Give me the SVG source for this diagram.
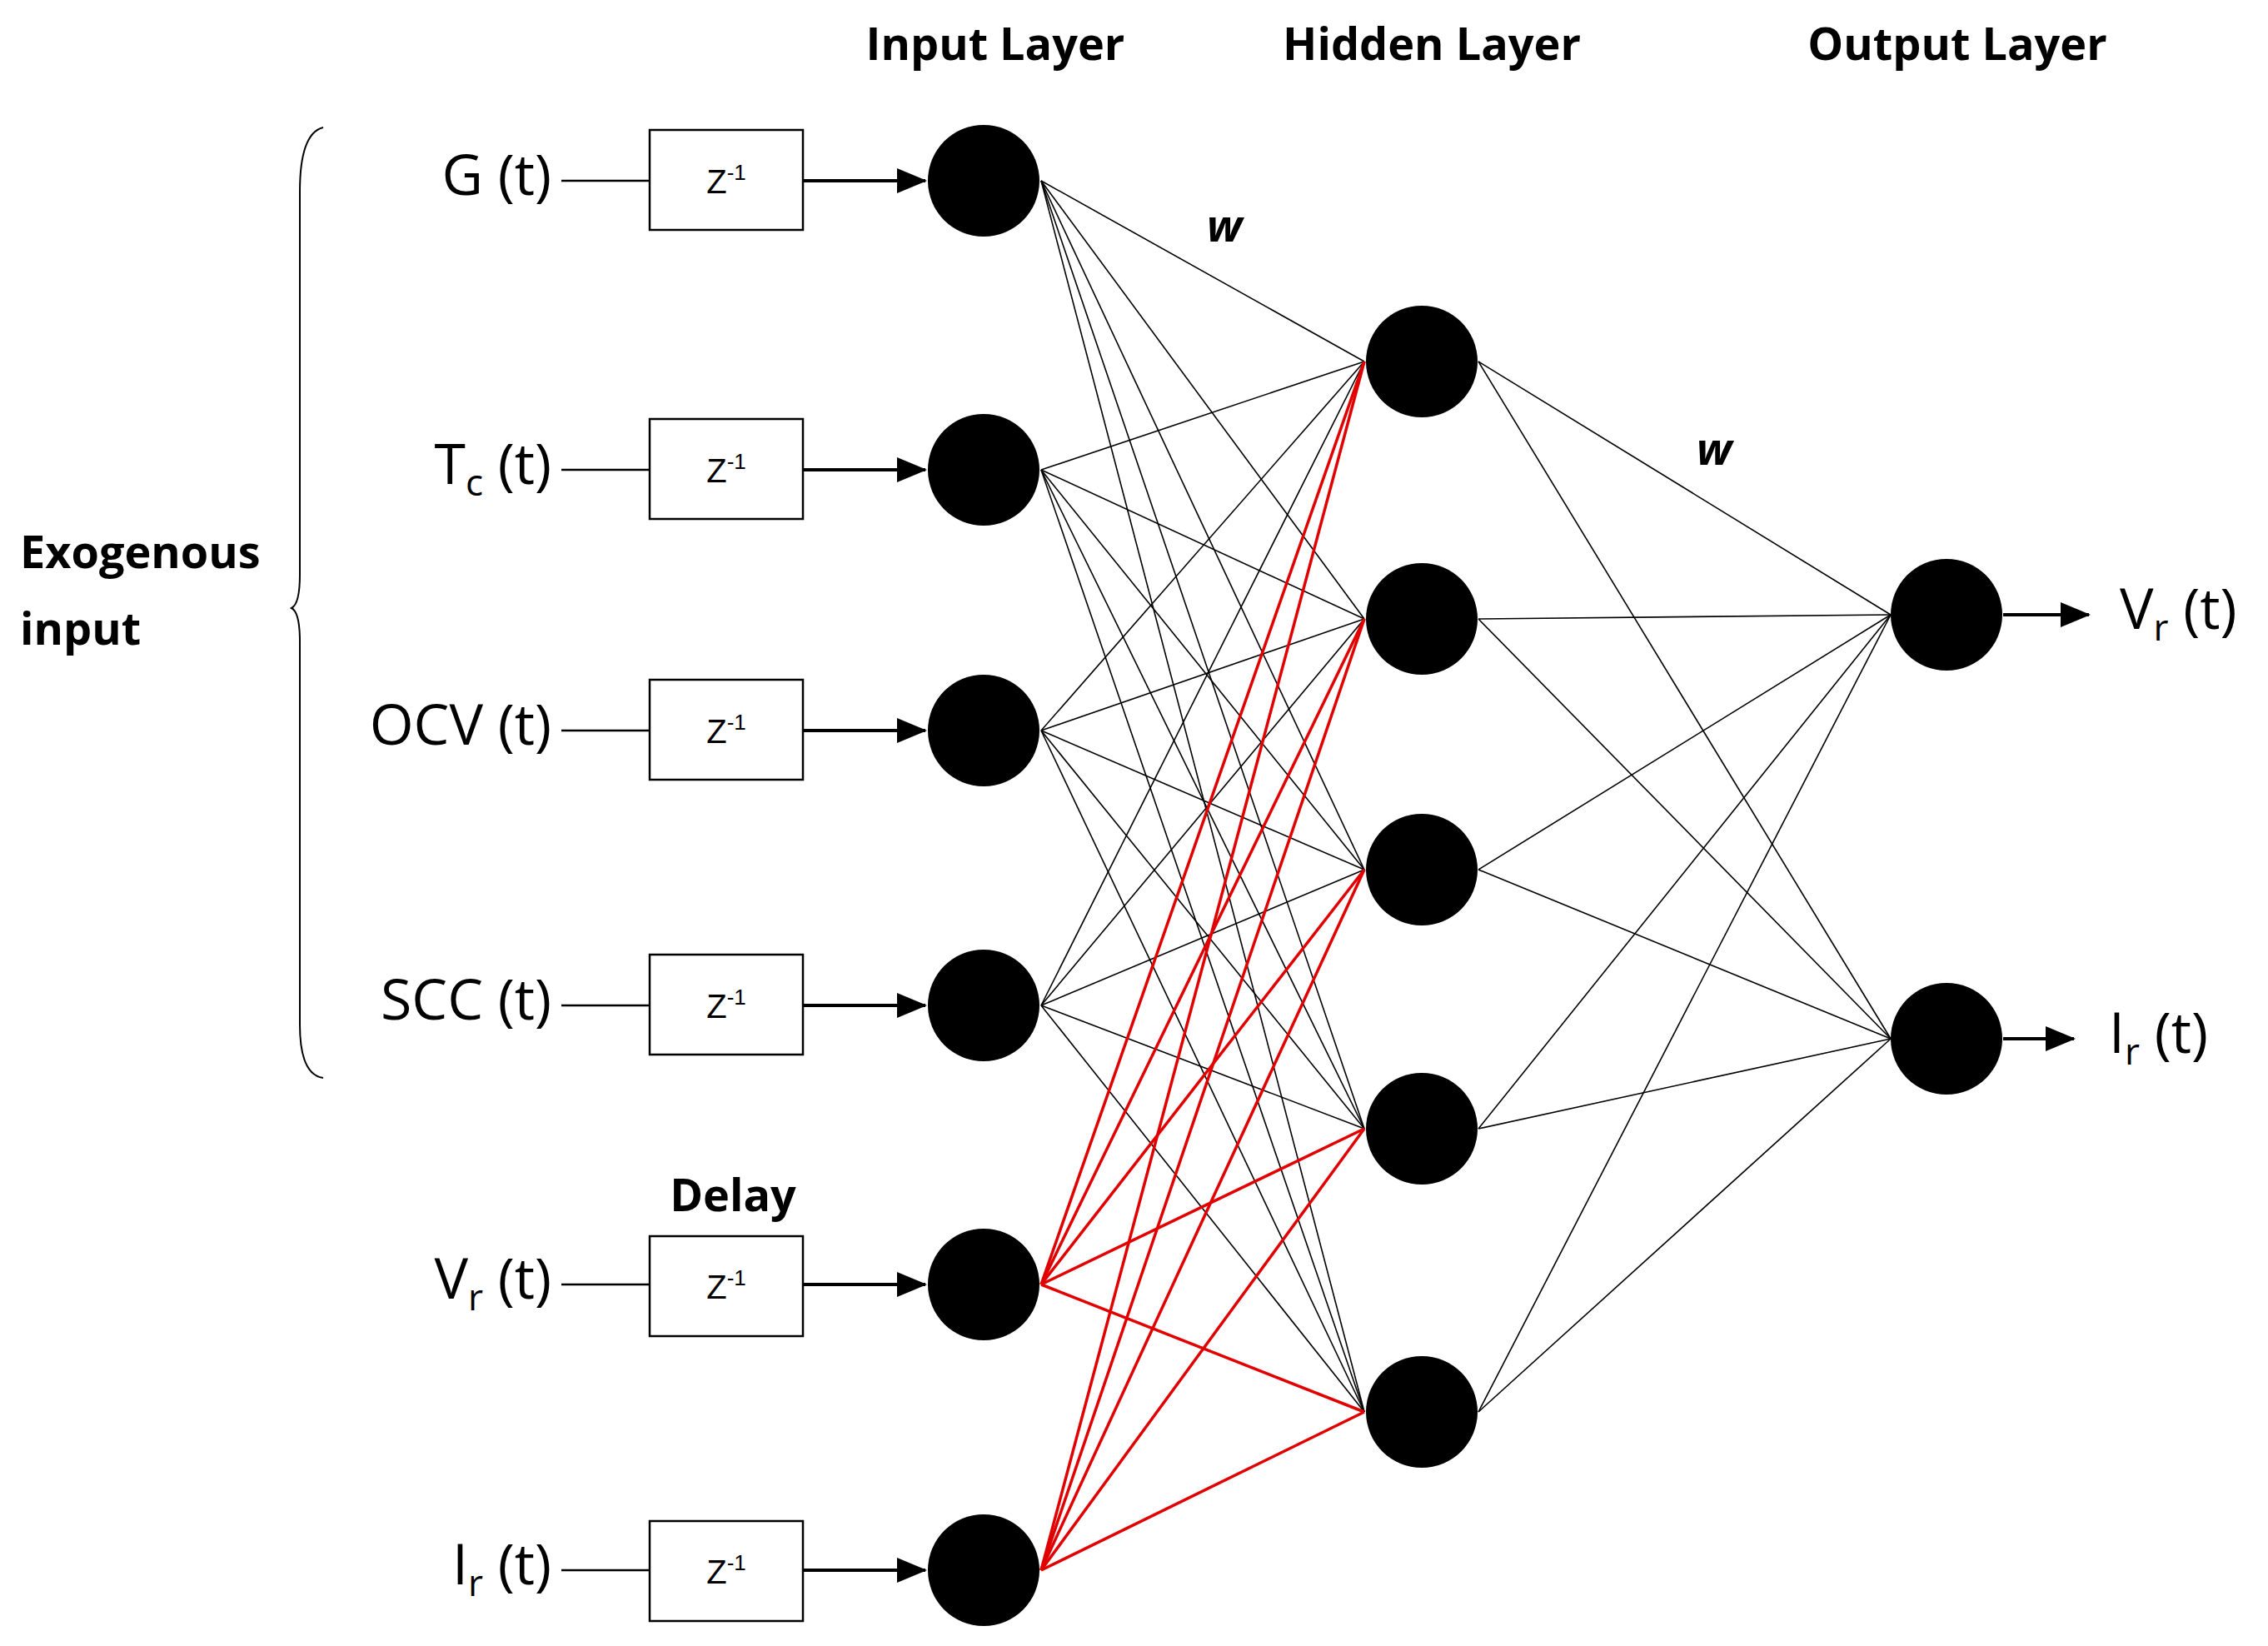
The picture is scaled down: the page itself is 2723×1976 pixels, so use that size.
<svg xmlns="http://www.w3.org/2000/svg" width="2723" height="1976" viewBox="0 0 2723 1976">
<defs>
<style>
.n{fill:#000}
.b{fill:#fff;stroke:#000;stroke-width:2.5}
.k{stroke:#000;stroke-width:1.6}
.r{stroke:#e00000;stroke-width:3.5}
.l{stroke:#000;stroke-width:2.5;fill:none}
.ar{stroke:#000;stroke-width:4;fill:none}
.t{font-family:"Open Sans","Liberation Sans",sans-serif;font-size:68px;fill:#000}
.h{font-family:"Open Sans","Liberation Sans",sans-serif;font-size:54px;font-weight:bold;fill:#000}
.z{font-family:"Liberation Sans",sans-serif;font-size:40px;fill:#000}
</style>
<marker id="a" markerWidth="36" markerHeight="30" refX="34" refY="15" orient="auto" markerUnits="userSpaceOnUse" viewBox="0 0 36 30"><path d="M0,0L36,15L0,30z"/></marker>
</defs>
<g id="connectors">
<g class="k">
<line x1="1250" y1="217" x2="1638" y2="434"/><line x1="1250" y1="217" x2="1638" y2="743"/><line x1="1250" y1="217" x2="1638" y2="1044"/><line x1="1250" y1="217" x2="1638" y2="1355"/><line x1="1250" y1="217" x2="1638" y2="1695"/>
<line x1="1250" y1="564" x2="1638" y2="434"/><line x1="1250" y1="564" x2="1638" y2="743"/><line x1="1250" y1="564" x2="1638" y2="1044"/><line x1="1250" y1="564" x2="1638" y2="1355"/><line x1="1250" y1="564" x2="1638" y2="1695"/>
<line x1="1250" y1="877" x2="1638" y2="434"/><line x1="1250" y1="877" x2="1638" y2="743"/><line x1="1250" y1="877" x2="1638" y2="1044"/><line x1="1250" y1="877" x2="1638" y2="1355"/><line x1="1250" y1="877" x2="1638" y2="1695"/>
<line x1="1250" y1="1207" x2="1638" y2="434"/><line x1="1250" y1="1207" x2="1638" y2="743"/><line x1="1250" y1="1207" x2="1638" y2="1044"/><line x1="1250" y1="1207" x2="1638" y2="1355"/><line x1="1250" y1="1207" x2="1638" y2="1695"/>
<line x1="1775" y1="434" x2="2270" y2="738"/><line x1="1775" y1="434" x2="2270" y2="1247"/>
<line x1="1775" y1="743" x2="2270" y2="738"/><line x1="1775" y1="743" x2="2270" y2="1247"/>
<line x1="1775" y1="1044" x2="2270" y2="738"/><line x1="1775" y1="1044" x2="2270" y2="1247"/>
<line x1="1775" y1="1355" x2="2270" y2="738"/><line x1="1775" y1="1355" x2="2270" y2="1247"/>
<line x1="1775" y1="1695" x2="2270" y2="738"/><line x1="1775" y1="1695" x2="2270" y2="1247"/>
</g>
<g class="r">
<line x1="1250" y1="1542" x2="1638" y2="434"/><line x1="1250" y1="1542" x2="1638" y2="743"/><line x1="1250" y1="1542" x2="1638" y2="1044"/><line x1="1250" y1="1542" x2="1638" y2="1355"/><line x1="1250" y1="1542" x2="1638" y2="1695"/>
<line x1="1250" y1="1885" x2="1638" y2="434"/><line x1="1250" y1="1885" x2="1638" y2="743"/><line x1="1250" y1="1885" x2="1638" y2="1044"/><line x1="1250" y1="1885" x2="1638" y2="1355"/><line x1="1250" y1="1885" x2="1638" y2="1695"/>
</g>
<g class="l">
<line x1="674" y1="217" x2="780" y2="217"/>
<line x1="674" y1="564" x2="780" y2="564"/>
<line x1="674" y1="877" x2="780" y2="877"/>
<line x1="674" y1="1207" x2="780" y2="1207"/>
<line x1="674" y1="1542" x2="780" y2="1542"/>
<line x1="674" y1="1885" x2="780" y2="1885"/>
<path d="M388,153 Q360,160 360,230 L360,690 Q360,725 350,730 Q360,735 360,770 L360,1230 Q360,1290 388,1294" stroke-width="2"/>
</g>
<g class="ar">
<line x1="964" y1="217" x2="1111" y2="217" marker-end="url(#a)"/>
<line x1="964" y1="564" x2="1111" y2="564" marker-end="url(#a)"/>
<line x1="964" y1="877" x2="1111" y2="877" marker-end="url(#a)"/>
<line x1="964" y1="1207" x2="1111" y2="1207" marker-end="url(#a)"/>
<line x1="964" y1="1542" x2="1111" y2="1542" marker-end="url(#a)"/>
<line x1="964" y1="1885" x2="1111" y2="1885" marker-end="url(#a)"/>
<line x1="2405" y1="738" x2="2508" y2="738" marker-end="url(#a)"/>
<line x1="2405" y1="1247" x2="2490" y2="1247" marker-end="url(#a)"/>
</g>
</g>
<g id="input-nodes">
<circle class="n" cx="1181" cy="217" r="67"/><circle class="n" cx="1181" cy="564" r="67"/><circle class="n" cx="1181" cy="877" r="67"/><circle class="n" cx="1181" cy="1207" r="67"/><circle class="n" cx="1181" cy="1542" r="67"/><circle class="n" cx="1181" cy="1885" r="67"/>
</g>
<g id="hidden-nodes">
<circle class="n" cx="1707" cy="434" r="67"/><circle class="n" cx="1707" cy="743" r="67"/><circle class="n" cx="1707" cy="1044" r="67"/><circle class="n" cx="1707" cy="1355" r="67"/><circle class="n" cx="1707" cy="1695" r="67"/>
</g>
<g id="output-nodes">
<circle class="n" cx="2337" cy="738" r="67"/><circle class="n" cx="2337" cy="1247" r="67"/>
</g>
<g id="delays">
<rect class="b" x="780" y="156" width="184" height="120"/><rect class="b" x="780" y="503" width="184" height="120"/><rect class="b" x="780" y="816" width="184" height="120"/><rect class="b" x="780" y="1146" width="184" height="120"/><rect class="b" x="780" y="1484" width="184" height="120"/><rect class="b" x="780" y="1826" width="184" height="120"/>
<g class="z" text-anchor="middle">
<text x="872" y="232">Z<tspan font-size="26" dy="-16">-1</tspan></text>
<text x="872" y="579">Z<tspan font-size="26" dy="-16">-1</tspan></text>
<text x="872" y="892">Z<tspan font-size="26" dy="-16">-1</tspan></text>
<text x="872" y="1222">Z<tspan font-size="26" dy="-16">-1</tspan></text>
<text x="872" y="1559">Z<tspan font-size="26" dy="-16">-1</tspan></text>
<text x="872" y="1901">Z<tspan font-size="26" dy="-16">-1</tspan></text>
</g>
</g>
<g id="labels">
<g class="t" text-anchor="end">
<text x="662" y="234">G (t)</text>
<text x="662" y="581">T<tspan font-size="44" dy="14">c</tspan><tspan dy="-14"> (t)</tspan></text>
<text x="662" y="894">OCV (t)</text>
<text x="662" y="1224">SCC (t)</text>
<text x="662" y="1559">V<tspan font-size="44" dy="14">r</tspan><tspan dy="-14"> (t)</tspan></text>
<text x="662" y="1902">I<tspan font-size="44" dy="14">r</tspan><tspan dy="-14"> (t)</tspan></text>
</g>
<g class="t">
<text x="2545" y="755">V<tspan font-size="44" dy="14">r</tspan><tspan dy="-14"> (t)</tspan></text>
<text x="2532" y="1264">I<tspan font-size="44" dy="14">r</tspan><tspan dy="-14"> (t)</tspan></text>
</g>
<g class="h" text-anchor="middle">
<text x="1195" y="72">Input Layer</text>
<text x="1719" y="72">Hidden Layer</text>
<text x="2350" y="72">Output Layer</text>
<text x="880" y="1454">Delay</text>
<text x="1470" y="290" font-style="italic">w</text>
<text x="2058" y="558" font-style="italic">w</text>
</g>
<g class="h">
<text x="24" y="682">Exogenous</text>
<text x="24" y="774">input</text>
</g>
</g>
</svg>
